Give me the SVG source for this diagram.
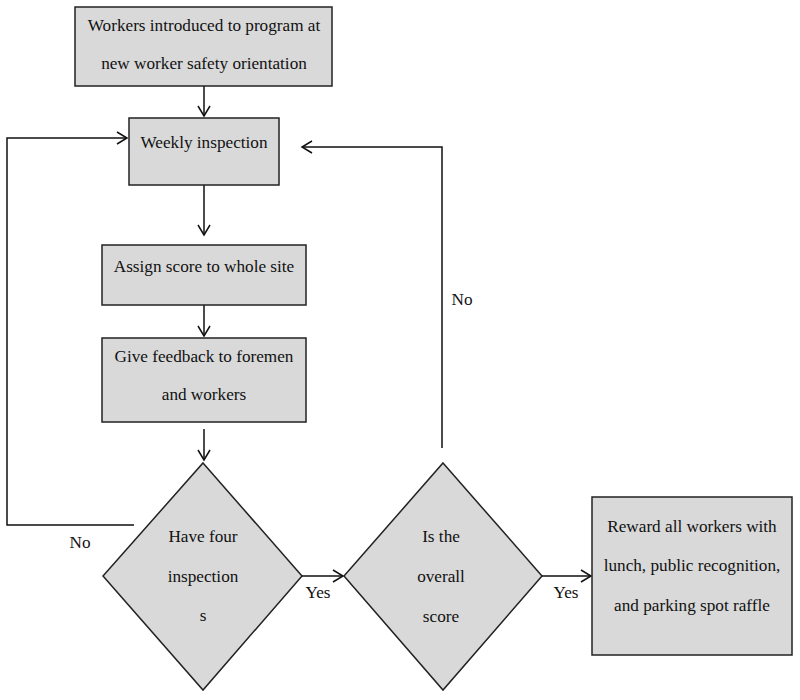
<svg xmlns="http://www.w3.org/2000/svg" width="800" height="700" viewBox="0 0 800 700">
<defs>
<style>
.n{fill:#d9d9d9;stroke:#222;stroke-width:1.5}
.c{fill:none;stroke:#111;stroke-width:1.5}
text{font-family:'Liberation Serif','Times New Roman',Times,serif;font-size:17.2px;fill:#111;text-anchor:middle}
</style>
<marker id="ah" markerWidth="14" markerHeight="14" refX="11" refY="7" orient="auto" markerUnits="userSpaceOnUse">
<path d="M1,1 L11,7 L1,13" fill="none" stroke="#111" stroke-width="1.5"/>
</marker>
</defs>
<rect width="800" height="700" fill="#fff"/>
<g id="connectors">
<path class="c" d="M204,86 V116" marker-end="url(#ah)"/>
<path class="c" d="M204,185 V235" marker-end="url(#ah)"/>
<path class="c" d="M204,305 V336" marker-end="url(#ah)"/>
<path class="c" d="M204,429 V460" marker-end="url(#ah)"/>
<path class="c" d="M134,525 H7 V138 H127" marker-end="url(#ah)"/>
<path class="c" d="M442,448 V147 H302" marker-end="url(#ah)"/>
<path class="c" d="M302,576 H343" marker-end="url(#ah)"/>
<path class="c" d="M542,576 H591" marker-end="url(#ah)"/>
<text x="80" y="548">No</text>
<text x="462" y="305">No</text>
<text x="318" y="598">Yes</text>
<text x="566" y="598">Yes</text>
</g>
<g id="n1">
<rect class="n" x="75" y="7" width="257" height="79"/>
<text x="204" y="31">Workers introduced to program at</text>
<text x="204" y="69">new worker safety orientation</text>
</g>
<g id="n2">
<rect class="n" x="129" y="118" width="150" height="67"/>
<text x="204" y="148">Weekly inspection</text>
</g>
<g id="n3">
<rect class="n" x="102" y="245" width="204" height="60"/>
<text x="204" y="272">Assign score to whole site</text>
</g>
<g id="n4">
<rect class="n" x="102" y="338" width="204" height="84"/>
<text x="204" y="362">Give feedback to foremen</text>
<text x="204" y="400">and workers</text>
</g>
<g id="n5">
<polygon class="n" points="203,463 302,576 203,690 103,576"/>
<text x="203" y="542">Have four</text>
<text x="203" y="582">inspection</text>
<text x="203" y="621">s</text>
</g>
<g id="n6">
<polygon class="n" points="443,463 542,576 443,690 344,576"/>
<text x="441" y="542">Is the</text>
<text x="441" y="582">overall</text>
<text x="441" y="622">score</text>
</g>
<g id="n7">
<rect class="n" x="592" y="497" width="200" height="158"/>
<text x="692" y="532">Reward all workers with</text>
<text x="692" y="571">lunch, public recognition,</text>
<text x="692" y="611">and parking spot raffle</text>
</g>
</svg>
